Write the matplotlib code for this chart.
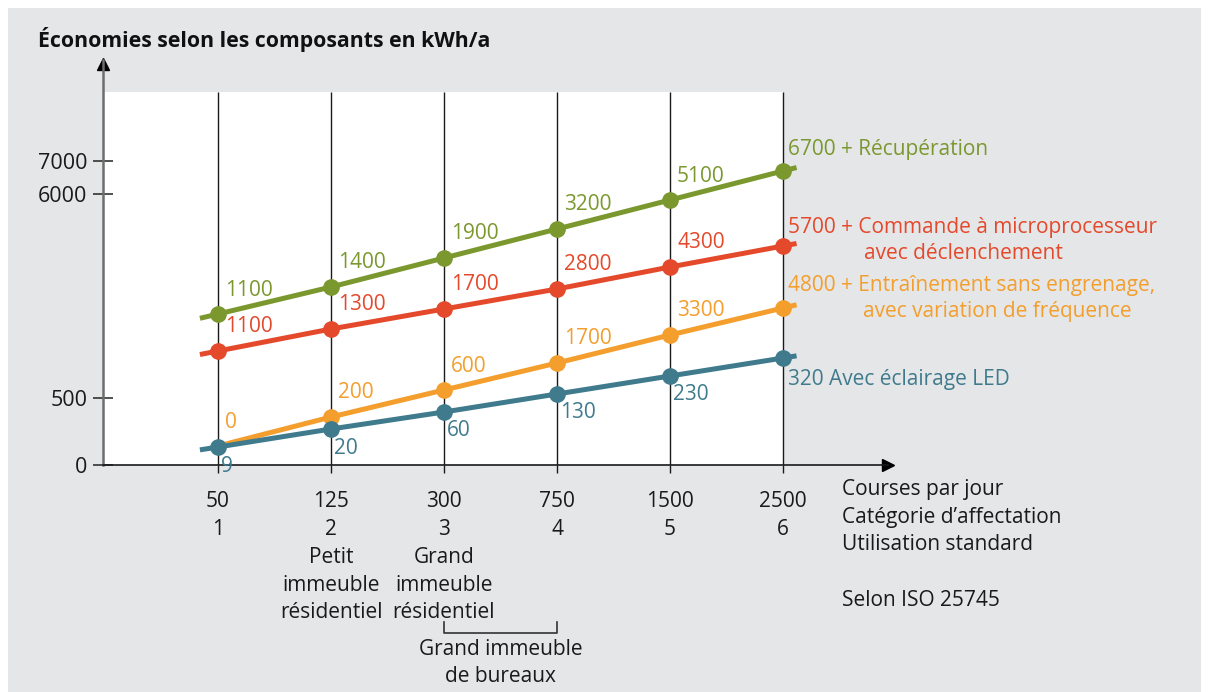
import matplotlib.pyplot as plt
import numpy as np

plt.rcParams['font.family'] = ['Open Sans', 'DejaVu Sans']

# data
courses = ['50', '125', '300', '750', '1500', '2500']
categorie = ['1', '2', '3', '4', '5', '6']
usage = ['', 'Petit\nimmeuble\nrésidentiel', 'Grand\nimmeuble\nrésidentiel', '', '', '']

# schematic heights (chart is not to scale) and the printed values
green_level = [151, 178, 207, 236, 265, 294]
red_level = [114, 136, 156, 176, 198, 219]
orange_level = [19, 48, 75, 102, 130, 157]
blue_level = [18, 36, 53, 71, 89, 107]

green_val = ['1100', '1400', '1900', '3200', '5100', '']
red_val = ['1100', '1300', '1700', '2800', '4300', '']
orange_val = ['0', '200', '600', '1700', '3300', '']
blue_val = ['9', '20', '60', '130', '230', '']

ytick_level = [0, 67, 271, 304]
ytick_text = ['0', '500', '6000', '7000']

GREEN = '#7b982f'
RED = '#e4492c'
ORANGE = '#f39e2d'
BLUE = '#3f7b8d'
BG = '#e5e6e8'
FS = 15

W, H = 1208, 692
fig = plt.figure(figsize=(W / 100, H / 100), dpi=100)
fig.patch.set_facecolor('white')
fig.patches.append(plt.Rectangle((8 / W, 0), 1193 / W, 684 / H, transform=fig.transFigure,
                                 facecolor=BG, edgecolor='none', zorder=-10))

ax = fig.add_axes([103 / W, (H - 465) / H, 785 / W, 405 / H])
ax.set_facecolor('none')
ax.set_xlim(1 + (103 - 218) / 113, 1 + (888 - 218) / 113)
ax.set_ylim(0, 405)

x = np.arange(1, 7)

# white plot area
ax.add_patch(plt.Rectangle((ax.get_xlim()[0], 0), 6 - ax.get_xlim()[0], 373,
                           facecolor='white', edgecolor='none', zorder=0))
ax.vlines(x, 0, 373, color='#1a1a1a', lw=1.0, zorder=1)

for sp in ['top', 'right']:
    ax.spines[sp].set_visible(False)
ax.spines['left'].set_color('#6d6d6d')
ax.spines['left'].set_linewidth(1.8)
ax.spines['bottom'].set_color('#1a1a1a')
ax.spines['bottom'].set_linewidth(1.2)
ax.plot(0, 0.99, '^', color='black', ms=9, transform=ax.transAxes, clip_on=False)
ax.plot(1, 0, '>', color='black', ms=9, transform=ax.transAxes, clip_on=False)

ax.set_yticks(ytick_level)
ax.set_yticklabels(ytick_text, fontsize=FS + 0.5, color='#1a1a1a')
ax.tick_params(axis='y', direction='inout', length=14.5, width=1.2, color='#333333', pad=4)

ax.set_xticks(x)
ax.set_xticklabels([c + '\n' + k + ('\n' + u if u else '') for c, k, u in zip(courses, categorie, usage)],
                   fontsize=FS, color='#1a1a1a', linespacing=1.42, va='top')
ax.tick_params(axis='x', direction='out', length=6, width=1.0, color='#1a1a1a', pad=13)


def draw(level, vals, color, stub_left=True, below=False, first_dot=True):
    y = np.array(level, dtype=float)
    xs = list(x)
    ys = list(y)
    if stub_left:
        xs = [1 - 0.16] + xs
        ys = [y[0] - 0.16 * (y[1] - y[0])] + ys
    xs = xs + [6 + 0.12]
    ys = ys + [y[-1] + 0.12 * (y[-1] - y[-2])]
    ax.plot(xs, ys, color=color, lw=3.6, solid_capstyle='butt', zorder=3)
    start = 0 if first_dot else 1
    ax.plot(x[start:], y[start:], 'o', color=color, ms=11, zorder=4)
    for xi, yi, v in zip(x, y, vals):
        if not v:
            continue
        if below:
            ax.annotate(v, (xi, yi), xytext=(3, -19), textcoords='offset pixels',
                        color=color, fontsize=FS, va='center', ha='left', zorder=5)
        else:
            ax.annotate(v, (xi, yi), xytext=(7, 24), textcoords='offset pixels',
                        color=color, fontsize=FS, va='center', ha='left', zorder=5)


draw(orange_level, orange_val, ORANGE, stub_left=False, first_dot=False)
draw(blue_level, blue_val, BLUE, below=True)
draw(red_level, red_val, RED)
draw(green_level, green_val, GREEN)


def px(xp):
    return 1 + (xp - 218) / 113


def py(yp):
    return 465 - yp


ax.text(px(788), py(150), '6700 + Récupération', color=GREEN, fontsize=FS, va='center', ha='left')
ax.text(px(788), py(228), '5700 + Commande à microprocesseur', color=RED, fontsize=FS, va='center', ha='left')
ax.text(px(864), py(254), 'avec déclenchement', color=RED, fontsize=FS, va='center', ha='left')
ax.text(px(788), py(285), '4800 + Entraînement sans engrenage,', color=ORANGE, fontsize=FS, va='center', ha='left')
ax.text(px(863), py(312), 'avec variation de fréquence', color=ORANGE, fontsize=FS, va='center', ha='left')
ax.text(px(788), py(380), '320 Avec éclairage LED', color=BLUE, fontsize=FS, va='center', ha='left')

ax.text(px(842), py(479), 'Courses par jour\nCatégorie d’affectation\nUtilisation standard\n\nSelon ISO 25745',
        color='#1a1a1a', fontsize=FS, va='top', ha='left', linespacing=1.42)

# bracket for office building
ax.plot([3, 3, 4, 4], [py(622), py(633), py(633), py(622)], color='#333333', lw=1.2, clip_on=False)
ax.text(3.5, py(639), 'Grand immeuble\nde bureaux', color='#1a1a1a', fontsize=FS,
        va='top', ha='center', linespacing=1.35)

fig.text(38 / W, 1 - 40 / H, 'Économies selon les composants en kWh/a', fontsize=15.3,
         fontweight='bold', color='#111111', va='center', ha='left')

fig.savefig('out.png', dpi=100, facecolor=fig.get_facecolor())
